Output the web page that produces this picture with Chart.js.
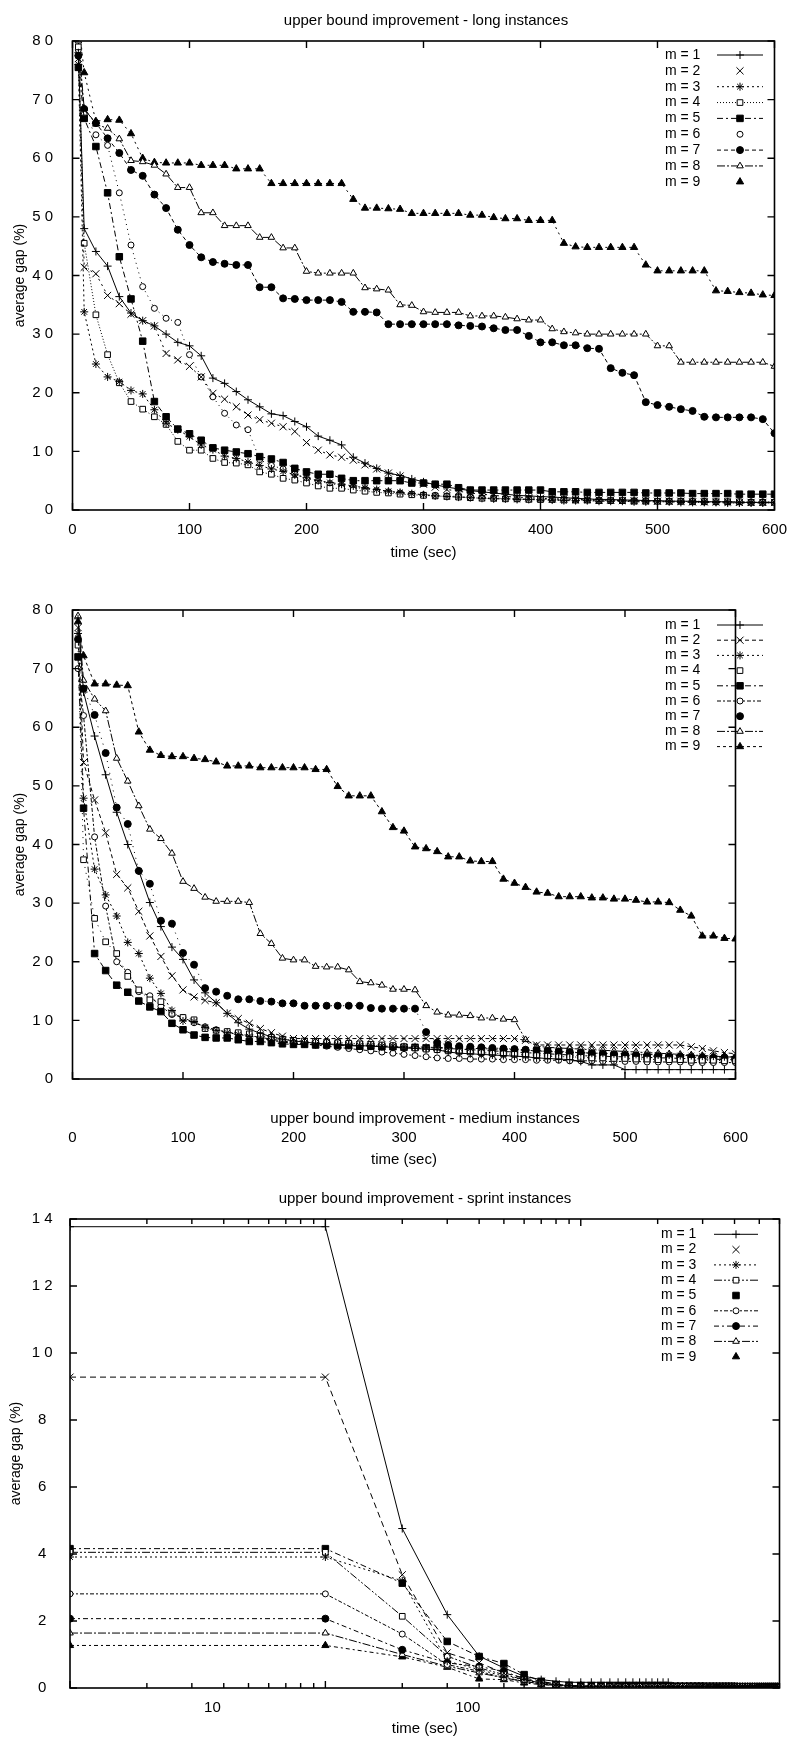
<!DOCTYPE html>
<html><head><meta charset="utf-8">
<script src="https://cdn.jsdelivr.net/npm/chart.js@4.4.1/dist/chart.umd.min.js"></script>
<style>
html,body{margin:0;padding:0;background:#fff;overflow:hidden;width:798px;height:1739px;position:relative;}
canvas{position:absolute;left:0;}
.ttl{position:absolute;left:0;text-align:center;font:15px "Liberation Sans",Arial,sans-serif;color:#000;line-height:18px;white-space:nowrap;}
</style></head><body>
<canvas id="c1" width="798" height="562" style="top:0px;width:798px;height:562px"></canvas>
<canvas id="c2" width="798" height="589" style="top:580px;width:798px;height:589px"></canvas>
<canvas id="c3" width="798" height="558" style="top:1180px;width:798px;height:558px"></canvas>
<div class="ttl" style="top:11px;width:852px">upper bound improvement - long instances</div>
<div class="ttl" style="top:1109px;width:850px">upper bound improvement - medium instances</div>
<div class="ttl" style="top:1189px;width:850px">upper bound improvement - sprint instances</div>
<script>
// ---------------- DATA ----------------
const SERIES_LABELS = ['m = 1','m = 2','m = 3','m = 4','m = 5','m = 6','m = 7','m = 8','m = 9'];

const TIME_LONG = [5,10,20,30,40,50,60,70,80,90,100,110,120,130,140,150,160,170,180,190,200,210,220,230,240,250,260,270,280,290,300,310,320,330,340,350,360,370,380,390,400,410,420,430,440,450,460,470,480,490,500,510,520,530,540,550,560,570,580,590,600];
const TIME_MEDIUM = [5,10,20,30,40,50,60,70,80,90,100,110,120,130,140,150,160,170,180,190,200,210,220,230,240,250,260,270,280,290,300,310,320,330,340,350,360,370,380,390,400,410,420,430,440,450,460,470,480,490,500,510,520,530,540,550,560,570,580,590,600];
const TIME_SPRINT = [1,10,20,30,40,50,60,70,80,90,100,110,120,130,140,150,160,170,180,190,200,210,220,230,240,250,260,270,280,290,300,310,320,330,340,350,360,370,380,390,400,410,420,430,440,450,460,470,480,490,500,510,520,530,540,550,560,570,580,590,600];

const X_TICKS_LINEAR = [0,100,200,300,400,500,600];
const Y_TICKS_GAP = [0,10,20,30,40,50,60,70,80];
const Y_TICKS_SPRINT = [0,2,4,6,8,10,12,14];
const X_TICKS_SPRINT = [1,2,3,4,5,6,7,8,9,10,20,30,40,50,60,70,80,90,100,200,300,400,500,600];
const X_LABELS_SPRINT = {10:'10', 100:'100'};

// long instances
const long_m1 = [78, 48.0,44.1,41.6,36.4,33.6,32.3,31.4,30.0,28.6,28.0, 26.3,22.5,21.6,20.2,18.8,17.6,16.4,16.1,15.1,14.2, 12.6,11.9,11.1,9.0,8.0,7.1,6.3,5.9,5.3,4.8, 4.3,3.9,3.6,3.3,3.1,2.9,2.7,2.5,2.4,2.3, 2.2,2.1,2.0,1.9,1.8,1.8,1.7,1.7,1.6,1.6, 1.5,1.5,1.5,1.4,1.4,1.4,1.3,1.3,1.3,1.3];
const long_m2 = [77, 41.4,40.3,36.6,35.2,33.4,32.3,31.4,26.7,25.6,24.5, 22.7,19.9,18.9,17.6,16.2,15.4,14.8,14.2,13.4,11.5, 10.2,9.4,9.0,8.5,7.7,7.0,6.3,5.8,5.0,4.4, 3.9,3.5,3.2,2.9,2.7,2.5,2.3,2.2,2.1,2.0, 1.9,1.9,1.8,1.8,1.7,1.7,1.6,1.6,1.6,1.5, 1.5,1.5,1.4,1.4,1.4,1.4,1.3,1.3,1.3,1.3];
const long_m3 = [76, 33.8,24.9,22.7,21.9,20.4,19.8,17.1,14.8,13.7,12.5, 11.1,10.3,9.2,8.8,8.2,7.6,7.0,6.6,6.0,5.5, 5.0,4.7,4.4,4.1,3.8,3.5,3.2,3.0,2.8,2.6, 2.4,2.3,2.2,2.1,2.0,1.9,1.9,1.8,1.8,1.7, 1.7,1.6,1.6,1.6,1.5,1.5,1.5,1.4,1.4,1.4, 1.4,1.3,1.3,1.3,1.3,1.2,1.2,1.2,1.2,1.2];
const long_m4 = [79, 45.5,33.3,26.5,21.7,18.5,17.2,15.9,14.6,11.7,10.2, 10.2,8.8,8.1,8.0,7.7,6.5,6.1,5.4,5.1,4.6, 4.1,3.7,3.7,3.4,3.2,3.0,2.9,2.7,2.6,2.5, 2.4,2.3,2.2,2.1,2.0,2.0,1.9,1.9,1.8,1.8, 1.8,1.7,1.7,1.7,1.6,1.6,1.6,1.5,1.5,1.5, 1.5,1.5,1.4,1.4,1.4,1.4,1.4,1.3,1.3,1.3];
const long_m5 = [75.5, 66.8,62.0,54.1,43.2,36.0,28.8,18.5,15.9,13.8,13.0, 11.9,10.6,10.2,9.9,9.6,9.1,8.7,8.1,7.1,6.5, 6.1,6.1,5.4,5.0,5.0,5.0,5.0,5.0,4.6,4.6, 4.4,4.4,3.8,3.4,3.4,3.4,3.4,3.4,3.4,3.4, 3.1,3.1,3.1,3.0,3.0,3.0,3.0,3.0,2.9,2.9, 2.9,2.9,2.8,2.8,2.8,2.8,2.7,2.7,2.7,2.7];
const long_m6 = [78.5, 67.5,64.0,62.2,54.1,45.2,38.1,34.4,32.7,32.0,26.5, 22.7,19.3,16.5,14.5,13.7,8.6,7.6,7.0,6.2,5.4, 4.9,4.5,4.2,3.9,3.6,3.3,3.1,2.9,2.7,2.6, 2.5,2.4,2.3,2.2,2.1,2.0,2.0,1.9,1.9,1.8, 1.8,1.8,1.7,1.7,1.7,1.6,1.6,1.6,1.6,1.5, 1.5,1.5,1.5,1.5,1.4,1.4,1.4,1.4,1.4,1.4];
const long_m7 = [77.5, 68.4,66.0,63.4,60.9,58.0,57.0,53.8,51.5,47.8,45.2, 43.1,42.3,42.0,41.8,41.8,38.0,38.0,36.1,36.0,35.8, 35.8,35.8,35.5,33.8,33.8,33.7,31.7,31.7,31.7,31.7, 31.7,31.7,31.5,31.4,31.3,31.0,30.7,30.7,29.7,28.6, 28.6,28.1,28.1,27.6,27.5,24.2,23.4,23.0,18.4,17.9, 17.6,17.2,16.9,15.9,15.8,15.8,15.8,15.8,15.5,13.1];
const long_m8 = [80, 68.5,65.8,65.1,63.3,59.6,59.4,58.8,57.3,55.0,55.0, 50.7,50.7,48.5,48.5,48.5,46.5,46.5,44.7,44.7,40.7, 40.4,40.4,40.4,40.4,37.9,37.7,37.5,35.0,34.9,33.8, 33.7,33.7,33.7,33.1,33.1,33.1,32.9,32.6,32.4,32.4, 30.9,30.4,30.2,30.0,30.0,30.0,30.0,30.0,30.0,28.0, 28.0,25.2,25.2,25.2,25.2,25.2,25.2,25.2,25.2,24.5];
const long_m9 = [84, 74.6,66.3,66.6,66.5,64.2,60.0,59.3,59.2,59.2,59.2, 58.8,58.8,58.8,58.2,58.2,58.2,55.7,55.7,55.7,55.7, 55.7,55.7,55.7,53.0,51.5,51.5,51.4,51.3,50.6,50.6, 50.6,50.6,50.6,50.3,50.3,49.9,49.7,49.7,49.4,49.4, 49.4,45.5,44.9,44.8,44.8,44.8,44.8,44.8,41.8,40.8, 40.8,40.8,40.8,40.8,37.4,37.3,37.1,37.0,36.7,36.6];

// medium instances
const med_m1 = [78.5, 66.0,58.5,51.9,45.5,40.0,35.5,30.1,26.0,22.5,20.4, 16.9,14.7,13.0,11.2,9.6,8.5,7.8,7.2,6.8,6.5, 6.3,6.1,6.0,5.9,5.8,5.7,5.6,5.5,5.4,5.3, 5.2,5.1,5.0,4.6,4.4,4.3,4.2,4.1,4.0,3.9, 3.8,3.6,3.5,3.4,3.3,3.0,2.4,2.4,2.4,1.6, 1.6,1.6,1.6,1.6,1.6,1.6,1.6,1.6,1.6,1.6];
const med_m2 = [77, 54.0,47.6,42.0,34.9,32.6,28.6,24.4,20.9,17.6,15.2, 14.0,13.4,13.0,11.2,10.3,9.5,8.6,7.9,7.3,6.9, 6.9,6.9,6.9,6.9,6.9,6.9,6.9,6.9,6.9,6.9, 6.9,6.9,6.9,6.9,6.9,6.9,6.9,6.9,6.9,6.9, 6.6,5.8,5.8,5.8,5.8,5.8,5.8,5.8,5.8,5.8, 5.8,5.8,5.8,5.8,5.8,5.5,5.2,4.8,4.5,4.3];
const med_m3 = [76, 47.9,35.8,31.4,27.8,23.3,21.4,17.2,14.6,11.7,9.9, 9.8,8.8,8.3,7.9,7.6,7.3,7.0,6.6,6.3,6.1, 6.0,5.9,5.9,5.8,5.8,5.7,5.7,5.6,5.6,5.5, 5.5,5.4,5.4,5.3,5.3,5.2,5.2,5.1,5.1,5.0, 4.9,4.8,4.7,4.6,4.5,4.5,4.4,4.4,4.3,4.3, 4.2,4.2,4.1,4.1,4.0,4.0,3.9,3.9,3.8,3.8];
const med_m4 = [74, 37.4,27.4,23.4,21.4,17.5,15.2,13.5,13.2,11.2,10.5, 10.1,8.6,8.3,8.1,7.9,7.7,7.4,7.1,6.8,6.6, 6.5,6.4,6.3,6.2,6.1,6.0,5.9,5.8,5.7,5.5, 5.3,5.1,5.0,4.8,4.7,4.6,4.5,4.4,4.3,4.2, 4.1,4.0,3.9,3.8,3.8,3.7,3.6,3.6,3.5,3.5, 3.4,3.4,3.3,3.3,3.3,3.2,3.2,3.2,3.1,3.1];
const med_m5 = [72, 46.2,21.4,18.5,16.0,14.8,13.3,12.3,11.5,9.5,8.4, 7.5,7.1,7.0,7.0,6.7,6.4,6.4,6.2,6.0,5.9, 5.9,5.8,5.8,5.7,5.7,5.6,5.6,5.5,5.5,5.4, 5.4,5.3,5.3,5.2,5.1,5.0,4.9,4.8,4.7,4.6, 4.5,4.4,4.3,4.2,4.1,4.0,3.9,3.9,3.8,3.8, 3.7,3.7,3.6,3.6,3.5,3.5,3.4,3.4,3.3,3.3];
const med_m6 = [70, 62.0,41.3,29.5,20.0,18.2,14.9,14.2,12.4,11.0,10.5, 9.6,8.9,8.4,8.0,7.7,7.4,7.1,6.8,6.5,6.2, 6.0,5.8,5.6,5.4,5.2,5.0,4.8,4.6,4.4,4.2, 4.0,3.8,3.6,3.5,3.5,3.4,3.4,3.4,3.3,3.3, 3.3,3.2,3.2,3.2,3.1,3.1,3.1,3.0,3.0,3.0, 3.0,2.9,2.9,2.9,2.9,2.8,2.8,2.8,2.8,2.8];
const med_m7 = [75, 66.6,62.1,55.6,46.3,43.5,35.5,33.3,27.0,26.5,21.5, 19.5,15.5,14.9,14.2,13.6,13.6,13.3,13.2,12.9,12.9, 12.5,12.5,12.5,12.5,12.5,12.5,12.1,12.0,12.0,12.0, 12.0,8.0,6.2,5.8,5.6,5.5,5.4,5.3,5.2,5.1, 5.0,4.9,4.8,4.7,4.6,4.5,4.4,4.3,4.2,4.1, 4.0,3.9,3.9,3.8,3.8,3.7,3.7,3.6,3.6,3.5];
const med_m8 = [79, 68.0,64.8,62.8,54.7,50.8,46.6,42.6,41.0,38.5,33.7, 32.5,31.0,30.3,30.3,30.3,30.1,24.8,23.1,20.6,20.3, 20.3,19.2,19.1,19.1,18.6,16.6,16.4,16.0,15.3,15.3, 15.2,12.5,11.4,10.9,10.9,10.8,10.4,10.4,10.2,10.1, 6.7,5.6,5.4,5.3,5.2,5.1,5.0,4.9,4.8,4.7, 4.6,4.5,4.4,4.3,4.2,4.1,4.0,3.9,3.8,3.7];
const med_m9 = [78, 72.2,67.4,67.4,67.2,67.1,59.2,56.1,55.2,55.0,55.0, 54.7,54.5,54.1,53.4,53.4,53.4,53.1,53.1,53.1,53.1, 53.1,52.8,52.8,49.9,48.3,48.3,48.3,45.6,42.9,42.3, 39.6,39.3,38.8,37.9,37.9,37.2,37.1,37.1,34.1,33.4, 32.7,31.9,31.7,31.1,31.1,31.1,30.9,30.9,30.7,30.7, 30.5,30.2,30.2,30.1,28.8,27.8,24.4,24.4,24.0,23.9];

// sprint instances
const spr_m1 = [13.77, 13.77,4.76,2.19,0.95,0.6,0.35,0.25,0.2,0.17,0.17, 0.17,0.17,0.17,0.17,0.17,0.17,0.17,0.17,0.17,0.17, 0.17,0.17,0.04,0.04,0.04,0.04,0.04,0.04,0.04,0.04, 0.04,0.04,0.04,0.04,0.04,0.04,0.04,0.04,0.04,0.04, 0.03,0.03,0.03,0.03,0.03,0.03,0.03,0.03,0.03,0.03, 0.03,0.03,0.03,0.03,0.03,0.03,0.03,0.03,0.03,0.03];
const spr_m2 = [9.28, 9.28,3.38,1.05,0.75,0.45,0.3,0.2,0.12,0.08,0.06, 0.06,0.06,0.05,0.05,0.05,0.05,0.05,0.05,0.05,0.05, 0.05,0.05,0.05,0.05,0.04,0.04,0.04,0.04,0.04,0.04, 0.04,0.04,0.04,0.04,0.04,0.04,0.04,0.04,0.04,0.04, 0.03,0.03,0.03,0.03,0.03,0.03,0.03,0.03,0.03,0.03, 0.03,0.03,0.03,0.03,0.03,0.02,0.02,0.02,0.02,0.02];
const spr_m3 = [3.91, 3.91,3.2,0.8,0.55,0.35,0.25,0.15,0.1,0.07,0.05, 0.05,0.05,0.05,0.05,0.05,0.05,0.05,0.05,0.05,0.05, 0.04,0.04,0.04,0.04,0.04,0.04,0.04,0.04,0.04,0.04, 0.04,0.04,0.04,0.04,0.03,0.03,0.03,0.03,0.03,0.03, 0.03,0.03,0.03,0.03,0.03,0.03,0.03,0.03,0.03,0.03, 0.02,0.02,0.02,0.02,0.02,0.02,0.02,0.02,0.02,0.02];
const spr_m4 = [4.05, 4.05,2.14,0.95,0.6,0.4,0.25,0.15,0.1,0.07,0.05, 0.05,0.05,0.05,0.05,0.05,0.05,0.05,0.05,0.05,0.05, 0.05,0.05,0.05,0.05,0.05,0.05,0.05,0.05,0.05,0.05, 0.04,0.04,0.04,0.04,0.04,0.04,0.04,0.04,0.04,0.04, 0.04,0.04,0.04,0.04,0.04,0.04,0.04,0.04,0.04,0.04, 0.03,0.03,0.03,0.03,0.03,0.03,0.03,0.03,0.03,0.03];
const spr_m5 = [4.16, 4.16,3.13,1.39,0.94,0.73,0.4,0.2,0.1,0.08,0.06, 0.06,0.06,0.06,0.06,0.06,0.06,0.06,0.06,0.06,0.06, 0.05,0.05,0.05,0.05,0.05,0.05,0.05,0.05,0.05,0.05, 0.05,0.05,0.05,0.05,0.05,0.05,0.05,0.05,0.05,0.05, 0.04,0.04,0.04,0.04,0.04,0.04,0.04,0.04,0.04,0.04, 0.04,0.04,0.04,0.04,0.04,0.04,0.04,0.04,0.04,0.04];
const spr_m6 = [2.81, 2.81,1.61,0.7,0.5,0.3,0.2,0.12,0.08,0.05,0.04, 0.04,0.04,0.04,0.04,0.04,0.04,0.04,0.04,0.04,0.04, 0.04,0.04,0.04,0.04,0.04,0.04,0.04,0.04,0.04,0.04, 0.03,0.03,0.03,0.03,0.03,0.03,0.03,0.03,0.03,0.03, 0.03,0.03,0.03,0.03,0.03,0.03,0.03,0.03,0.03,0.03, 0.03,0.03,0.03,0.03,0.03,0.03,0.03,0.03,0.03,0.03];
const spr_m7 = [2.07, 2.07,1.14,0.75,0.64,0.5,0.27,0.15,0.1,0.06,0.05, 0.05,0.05,0.05,0.05,0.05,0.05,0.05,0.05,0.05,0.05, 0.05,0.05,0.05,0.05,0.05,0.05,0.05,0.05,0.05,0.05, 0.04,0.04,0.04,0.04,0.04,0.04,0.04,0.04,0.04,0.04, 0.04,0.04,0.04,0.04,0.04,0.04,0.04,0.04,0.04,0.04, 0.04,0.04,0.04,0.04,0.04,0.04,0.04,0.04,0.04,0.04];
const spr_m8 = [1.64, 1.64,1.0,0.65,0.45,0.3,0.2,0.12,0.08,0.05,0.04, 0.04,0.04,0.04,0.04,0.04,0.04,0.04,0.04,0.04,0.04, 0.04,0.04,0.04,0.04,0.04,0.04,0.04,0.04,0.04,0.04, 0.03,0.03,0.03,0.03,0.03,0.03,0.03,0.03,0.03,0.03, 0.03,0.03,0.03,0.03,0.03,0.03,0.03,0.03,0.03,0.03, 0.03,0.03,0.03,0.03,0.03,0.03,0.03,0.03,0.03,0.03];
const spr_m9 = [1.27, 1.27,0.93,0.62,0.27,0.25,0.15,0.1,0.07,0.05,0.04, 0.04,0.04,0.04,0.04,0.04,0.04,0.04,0.04,0.04,0.04, 0.04,0.04,0.04,0.04,0.04,0.04,0.04,0.04,0.04,0.04, 0.03,0.03,0.03,0.03,0.03,0.03,0.03,0.03,0.03,0.03, 0.03,0.03,0.03,0.03,0.03,0.03,0.03,0.03,0.03,0.03, 0.03,0.03,0.03,0.03,0.03,0.03,0.03,0.03,0.03,0.03];

// ---------------- STYLES ----------------
const FONT = '"Liberation Sans", Arial, Helvetica, sans-serif';
const PSTYLE = ['cross','crossRot','star','rect','rect','circle','circle','triangle','triangle'];
const PFILL  = ['#fff','#fff','#fff','#fff','#000','#fff','#000','#fff','#000'];
const PRAD   = [4,5,4,4,4.6,3,3.5,3.8,4.2];
const LONG_DASH = [[],[2,4],[2,3],[1,2],[6,3,2,3],[1,4],[4,3],[8,2,2,2],[2,4]];
const LONG_LEGEND_LINE = [1,0,1,1,1,0,1,1,0];
const MED_DASH = [[],[4,3],[2,3],[1,5],[6,3,2,3],[4,2,2,2],[1,5],[8,2,2,2],[3,3]];
const MED_LEGEND_LINE = [1,1,1,0,1,1,0,1,1];
const SPR_DASH = [[],[6,4],[2,3],[8,2,2,2,2,2],[6,3,2,3],[4,2,2,2],[5,3,2,3],[8,2,2,2],[4,3,2,3]];
const SPR_LEGEND_LINE = [1,0,1,1,0,1,1,1,0];

Chart.defaults.font.family = FONT;
Chart.defaults.color = '#000';

function makeDatasets(times, series, dash) {
  return series.map((vals, i) => ({
    label: SERIES_LABELS[i],
    data: times.map((t, j) => ({x: t, y: vals[j]})),
    borderColor: '#000', borderWidth: 1, borderDash: dash[i],
    pointStyle: PSTYLE[i], pointRadius: PRAD[i], pointBorderWidth: 1,
    pointBackgroundColor: PFILL[i], pointBorderColor: '#000',
    pointHoverRadius: PRAD[i],
    showLine: true, tension: 0, fill: false
  }));
}

const framePlugin = {
  id: 'gnuFrame',
  afterDatasetsDraw(chart, args, opts) {
    const {ctx, chartArea: a} = chart;
    const xs = chart.scales.x, ys = chart.scales.y;
    ctx.save();
    ctx.setLineDash([]);
    ctx.strokeStyle = '#000';
    ctx.lineWidth = 1.6;
    ctx.strokeRect(a.left, a.top, a.right - a.left, a.bottom - a.top);
    ctx.lineWidth = 1.4;
    ctx.beginPath();
    xs.ticks.forEach(t => {
      const px = xs.getPixelForValue(t.value);
      const len = opts.xMinor && !opts.xMajor.includes(t.value) ? 5 : 7;
      ctx.moveTo(px, a.bottom); ctx.lineTo(px, a.bottom - len);
      ctx.moveTo(px, a.top); ctx.lineTo(px, a.top + len);
    });
    ys.ticks.forEach(t => {
      const py = ys.getPixelForValue(t.value);
      ctx.moveTo(a.left, py); ctx.lineTo(a.left + 7, py);
      ctx.moveTo(a.right, py); ctx.lineTo(a.right - 7, py);
    });
    ctx.stroke();
    ctx.restore();
  }
};

const legendPlugin = {
  id: 'gnuLegend',
  afterDraw(chart, args, o) {
    const ctx = chart.ctx;
    ctx.save();
    ctx.font = '14px ' + FONT;
    ctx.textBaseline = 'middle';
    ctx.textAlign = 'left';
    chart.data.datasets.forEach((ds, i) => {
      const y = o.y0 + i * o.dy;
      ctx.fillStyle = '#000';
      ctx.fillText(ds.label, o.textX, y);
      ctx.strokeStyle = '#000';
      ctx.lineWidth = 1;
      if (o.lines[i]) {
        ctx.beginPath();
        ctx.setLineDash(ds.borderDash);
        ctx.moveTo(o.x1, y); ctx.lineTo(o.x2, y);
        ctx.stroke();
        ctx.setLineDash([]);
      }
      ctx.fillStyle = ds.pointBackgroundColor;
      Chart.helpers.drawPoint(ctx, {pointStyle: ds.pointStyle, radius: ds.pointRadius, rotation: 0, borderWidth: 1}, (o.x1 + o.x2) / 2, y);
    });
    ctx.restore();
  }
};

const spaced = v => String(v).split('').join(' ');

function makeChart(id, cfg) {
  const yTitle = {display: true, text: 'average gap (%)', font: {size: 14, family: FONT}, padding: {top: cfg.yTitlePad, bottom: 0}};
  const xTitle = {display: true, text: 'time (sec)', font: {size: 15, family: FONT}, padding: {top: 0, bottom: 0}};
  const xScale = cfg.log ? {
      type: 'logarithmic', min: 1, max: 600,
      afterBuildTicks: s => { s.ticks = X_TICKS_SPRINT.map(v => ({value: v})); },
      ticks: {autoSkip: false, maxRotation: 0, padding: cfg.xPad, labelOffset: -113, font: {size: 15},
              callback: v => X_LABELS_SPRINT[v] || ''},
      grid: {display: false, drawTicks: false}, border: {display: false},
      title: xTitle,
      afterFit: s => { s.height = cfg.xH; }
    } : {
      type: 'linear', min: 0, max: 600,
      afterBuildTicks: s => { s.ticks = X_TICKS_LINEAR.map(v => ({value: v})); },
      ticks: {maxRotation: 0, padding: cfg.xPad, font: {size: 15}},
      grid: {display: false, drawTicks: false}, border: {display: false},
      title: xTitle,
      afterFit: s => { s.height = cfg.xH; }
    };
  return new Chart(document.getElementById(id), {
    type: 'line',
    data: {datasets: cfg.datasets},
    options: {
      responsive: false, animation: false, events: [],
      layout: {padding: {top: cfg.padTop, right: cfg.padRight, left: 0, bottom: 0}},
      scales: {
        x: xScale,
        y: {
          type: 'linear', min: 0, max: cfg.yMax,
          afterBuildTicks: s => { s.ticks = cfg.yTicks.map(v => ({value: v})); },
          ticks: {padding: cfg.yPad, font: {size: 15}, callback: v => spaced(v), crossAlign: cfg.yAlign},
          grid: {display: false, drawTicks: false}, border: {display: false},
          title: yTitle,
          afterFit: s => { s.width = cfg.yW; }
        }
      },
      plugins: {
        legend: {display: false}, tooltip: {enabled: false},
        gnuFrame: {xMinor: !!cfg.log, xMajor: [1, 10, 100]},
        gnuLegend: cfg.legend
      }
    },
    plugins: [framePlugin, legendPlugin]
  });
}

makeChart('c1', {
  datasets: makeDatasets(TIME_LONG, [long_m1,long_m2,long_m3,long_m4,long_m5,long_m6,long_m7,long_m8,long_m9], LONG_DASH),
  padTop: 41, padRight: 17, yW: 72.5, xH: 52, xPad: 11, yPad: 19.5, yMax: 80, yTicks: Y_TICKS_GAP,
  yTitlePad: 11.6, yAlign: 'near',
  legend: {textX: 665, y0: 55, dy: 15.85, x1: 717, x2: 763, lines: LONG_LEGEND_LINE}
});
makeChart('c2', {
  datasets: makeDatasets(TIME_MEDIUM, [med_m1,med_m2,med_m3,med_m4,med_m5,med_m6,med_m7,med_m8,med_m9], MED_DASH),
  padTop: 30, padRight: 17, yW: 72.5, xH: 90, xPad: 50, yPad: 19.5, yMax: 80, yTicks: Y_TICKS_GAP,
  yTitlePad: 11.6, yAlign: 'near',
  legend: {textX: 665, y0: 45, dy: 15.2, x1: 717, x2: 763, lines: MED_LEGEND_LINE}
});
makeChart('c3', {
  datasets: makeDatasets(TIME_SPRINT, [spr_m1,spr_m2,spr_m3,spr_m4,spr_m5,spr_m6,spr_m7,spr_m8,spr_m9], SPR_DASH),
  log: true,
  padTop: 39, padRight: 18.5, yW: 70, xH: 50, xPad: 10.4, yPad: 17.5, yMax: 14, yTicks: Y_TICKS_SPRINT,
  yTitlePad: 7.6, yAlign: 'center',
  legend: {textX: 661, y0: 54.3, dy: 15.3, x1: 714, x2: 758, lines: SPR_LEGEND_LINE}
});
</script>
</body></html>
